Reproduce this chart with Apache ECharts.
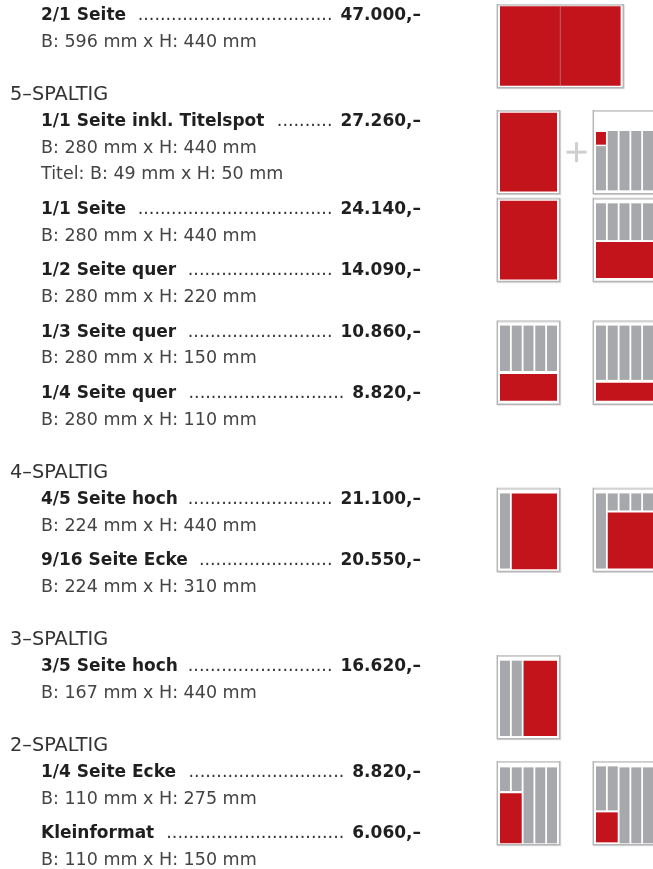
<!DOCTYPE html>
<html>
<head>
<meta charset="utf-8">
<script src="https://cdn.jsdelivr.net/npm/echarts@6/dist/echarts.min.js"></script>
<style>
html, body { margin: 0; padding: 0; background: #fff; }
#chartPrice { width: 653px; height: 869px; }
</style>
</head>
<body>
<div id="chartPrice"></div>
<script>
// --- data ---
var sectionNames = ['', '5–SPALTIG', '4–SPALTIG', '3–SPALTIG', '2–SPALTIG'];
var formatNames = ['2/1 Seite', '1/1 Seite inkl. Titelspot', '1/1 Seite', '1/2 Seite quer', '1/3 Seite quer',
    '1/4 Seite quer', '4/5 Seite hoch', '9/16 Seite Ecke', '3/5 Seite hoch', '1/4 Seite Ecke', 'Kleinformat'];
var formatSection = [0, 1, 1, 1, 1, 1, 2, 2, 3, 4, 4];
var formatPrices = [47000, 27260, 24140, 14090, 10860, 8820, 21100, 20550, 16620, 8820, 6060];
var formatWidthMm = [596, 280, 280, 280, 280, 280, 224, 224, 167, 110, 110];
var formatHeightMm = [440, 440, 440, 220, 150, 110, 440, 310, 440, 275, 150];
var titleSpotMm = [49, 50];          // extra line of "1/1 Seite inkl. Titelspot"

// icons: which shape, on which format's row, left/right slot
var iconShape = ['spread', 'full', 'titelspot', 'full', 'halfQuer', 'thirdQuer', 'quarterQuer',
    'fourFifth', 'nineSixteenth', 'threeFifth', 'quarterEcke', 'klein'];
var iconAnchor = [0, 1, 1, 2, 2, 4, 4, 6, 6, 8, 9, 9];
var iconSlot = [0, 0, 1, 0, 1, 0, 1, 0, 1, 0, 0, 1];

// icon cells: [colFrom, colTo, top, bottom, kind]  (top/bottom = share of page height)
var shapeCells = {
    spread: [[0, 5, 0.02, 0.975, 'r']],
    full: [[0, 5, 0.025, 0.975, 'r']],
    titelspot: [[1, 5, 0.245, 0.96, 'g'], [0, 1, 0.257, 0.41, 'r'], [0, 1, 0.427, 0.96, 'g']],
    halfQuer: [[0, 5, 0.057, 0.5, 'g'], [0, 5, 0.523, 0.957, 'r']],
    thirdQuer: [[0, 5, 0.053, 0.6, 'g'], [0, 5, 0.635, 0.957, 'r']],
    quarterQuer: [[0, 5, 0.053, 0.707, 'g'], [0, 5, 0.743, 0.957, 'r']],
    fourFifth: [[0, 1, 0.06, 0.965, 'g'], [1, 5, 0.06, 0.972, 'r']],
    nineSixteenth: [[0, 1, 0.06, 0.965, 'g'], [1, 5, 0.06, 0.265, 'g'], [1, 5, 0.289, 0.965, 'r']],
    threeFifth: [[0, 2, 0.06, 0.968, 'g'], [2, 5, 0.06, 0.968, 'r']],
    quarterEcke: [[0, 2, 0.069, 0.354, 'g'], [0, 2, 0.382, 0.984, 'r'], [2, 5, 0.069, 0.984, 'g']],
    klein: [[0, 2, 0.057, 0.587, 'g'], [0, 2, 0.611, 0.972, 'r'], [2, 5, 0.069, 0.984, 'g']]
};

// --- styles ---
var BOLD = 'bold 17px "DejaVu Sans"';
var REG = '17.5px "DejaVu Sans"';
var HEAD = '19.3px "DejaVu Sans"';
var RED = '#c3141c', GRAY = '#a7a8ab', FRAME = '#b6b6b8';
var textX = 41, headX = 10, priceRight = 421;
var slotX = [497.3, 593.3], pageW = 62.4, pageH = 83;

var ctx = document.createElement('canvas').getContext('2d');
function measure(str, font) {
    ctx.font = font;
    return ctx.measureText(str).width;
}
function fmtPrice(n) {
    return String(n).replace(/\B(?=(\d{3})+(?!\d))/g, '.') + ',–';
}

// text rows with their vertical position
var rows = [];
var titleY = [];
var y = 15.7, lastSec = -1;
for (var i = 0; i < formatNames.length; i++) {
    var sec = formatSection[i];
    if (sec !== lastSec && sectionNames[sec]) {
        y += 52.4;
        rows.push({kind: 'head', text: sectionNames[sec], x: headX, y: y});
        y += 26.9;
    } else if (i > 0) {
        y += 34.65;
    }
    lastSec = sec;
    titleY.push(y);
    rows.push({kind: 'title', text: formatNames[i], price: formatPrices[i], x: textX, y: y});
    y += 26.65;
    rows.push({kind: 'dims', text: 'B: ' + formatWidthMm[i] + ' mm x H: ' + formatHeightMm[i] + ' mm', x: textX, y: y});
    if (i === 1) {
        y += 26.65;
        rows.push({kind: 'dims', text: 'Titel: B: ' + titleSpotMm[0] + ' mm x H: ' + titleSpotMm[1] + ' mm', x: textX, y: y});
    }
}

function renderText(params, api) {
    var r = rows[params.dataIndex];
    var p = api.coord([api.value(0), api.value(1)]);
    if (r.kind === 'head') {
        return {type: 'text', style: {text: r.text, x: p[0], y: p[1], font: HEAD, fill: '#333', verticalAlign: 'middle'}};
    }
    if (r.kind === 'dims') {
        return {type: 'text', style: {text: r.text, x: p[0], y: p[1], font: REG, fill: '#444', verticalAlign: 'middle'}};
    }
    var priceStr = fmtPrice(r.price);
    var right = api.coord([priceRight, 0])[0];
    var from = p[0] + measure(r.text, BOLD) + 9;
    var to = right - measure(priceStr, BOLD) - 8;
    var n = Math.max(0, Math.floor((to - from) / measure('.', REG)));
    return {
        type: 'group',
        children: [
            {type: 'text', style: {text: r.text, x: p[0], y: p[1], font: BOLD, fill: '#1f1f1f', verticalAlign: 'middle'}},
            {type: 'text', style: {text: new Array(n + 1).join('.'), x: to, y: p[1], align: 'right', font: REG, fill: '#333', verticalAlign: 'middle'}},
            {type: 'text', style: {text: priceStr, x: right, y: p[1], align: 'right', font: BOLD, fill: '#1f1f1f', verticalAlign: 'middle'}}
        ]
    };
}

function renderIcon(params, api) {
    var shape = iconShape[params.dataIndex];
    var x0 = api.value(0), t0 = api.value(1);
    var w = shape === 'spread' ? pageW * 2 + 1.2 : pageW;
    var tl = api.coord([x0, t0]), br = api.coord([x0 + w, t0 + pageH]);
    var fw = br[0] - tl[0], fh = br[1] - tl[1];
    var inL = tl[0] + 2.7, inW = fw - 5.4;
    var colStep = (inW + 1.8) / 5;
    var kids = [
        {type: 'rect', shape: {x: tl[0] + 0.8, y: tl[1] + 0.8, width: fw, height: fh}, style: {fill: 'none', stroke: '#e2e2e2', lineWidth: 1.5}},
        {type: 'rect', shape: {x: tl[0], y: tl[1], width: fw, height: fh}, style: {fill: '#fff', stroke: FRAME, lineWidth: 1.5}},
        {type: 'line', shape: {x1: tl[0] + 1, y1: tl[1] + 0.4, x2: br[0] - 1, y2: tl[1] + 0.4}, style: {stroke: '#d3d3d3', lineWidth: 1.6}}
    ];
    shapeCells[shape].forEach(function (c) {
        var top = tl[1] + c[2] * fh, bot = tl[1] + c[3] * fh;
        if (c[4] === 'r') {
            var full = shape === 'spread' || shape === 'full';
            var xa = full ? inL : inL + c[0] * colStep;
            var xb = full ? inL + inW : inL + c[1] * colStep - 1.8;
            kids.push({type: 'rect', shape: {x: xa, y: top, width: xb - xa, height: bot - top}, style: {fill: RED}});
        } else {
            for (var k = c[0]; k < c[1]; k++) {
                kids.push({type: 'rect', shape: {x: inL + k * colStep, y: top, width: colStep - 1.8, height: bot - top}, style: {fill: GRAY}});
            }
        }
    });
    if (shape === 'spread') {
        var mx = tl[0] + fw / 2;
        kids.push({type: 'line', shape: {x1: mx, y1: tl[1], x2: mx, y2: br[1]}, style: {stroke: '#b9b9bb', lineWidth: 0.8, opacity: 0.6}});
    }
    if (shape === 'titelspot') {
        var cx = tl[0] - 16.8, cy = tl[1] + fh / 2;
        kids.push({type: 'rect', shape: {x: cx - 10, y: cy - 1.5, width: 20, height: 3}, style: {fill: '#cfcfcf'}});
        kids.push({type: 'rect', shape: {x: cx - 1.5, y: cy - 10, width: 3, height: 20}, style: {fill: '#cfcfcf'}});
    }
    return {type: 'group', children: kids};
}

var myChart = echarts.init(document.getElementById('chartPrice'));
var option = {
    animation: false,
    backgroundColor: '#fff',
    grid: {left: 0, right: 0, top: 0, bottom: 0},
    xAxis: {type: 'value', min: 0, max: 653, show: false},
    yAxis: {type: 'value', min: 0, max: 869, inverse: true, show: false},
    series: [
        {
            name: 'icons',
            type: 'custom',
            renderItem: renderIcon,
            clip: false,
            data: iconShape.map(function (s, i) {
                return [slotX[iconSlot[i]], titleY[iconAnchor[i]] - 11];
            })
        },
        {
            name: 'text',
            type: 'custom',
            renderItem: renderText,
            clip: false,
            data: rows.map(function (r) { return [r.x, r.y]; })
        }
    ]
};
myChart.setOption(option);

window.onresize = function () {
    myChart.resize();
};
</script>
</body>
</html>
